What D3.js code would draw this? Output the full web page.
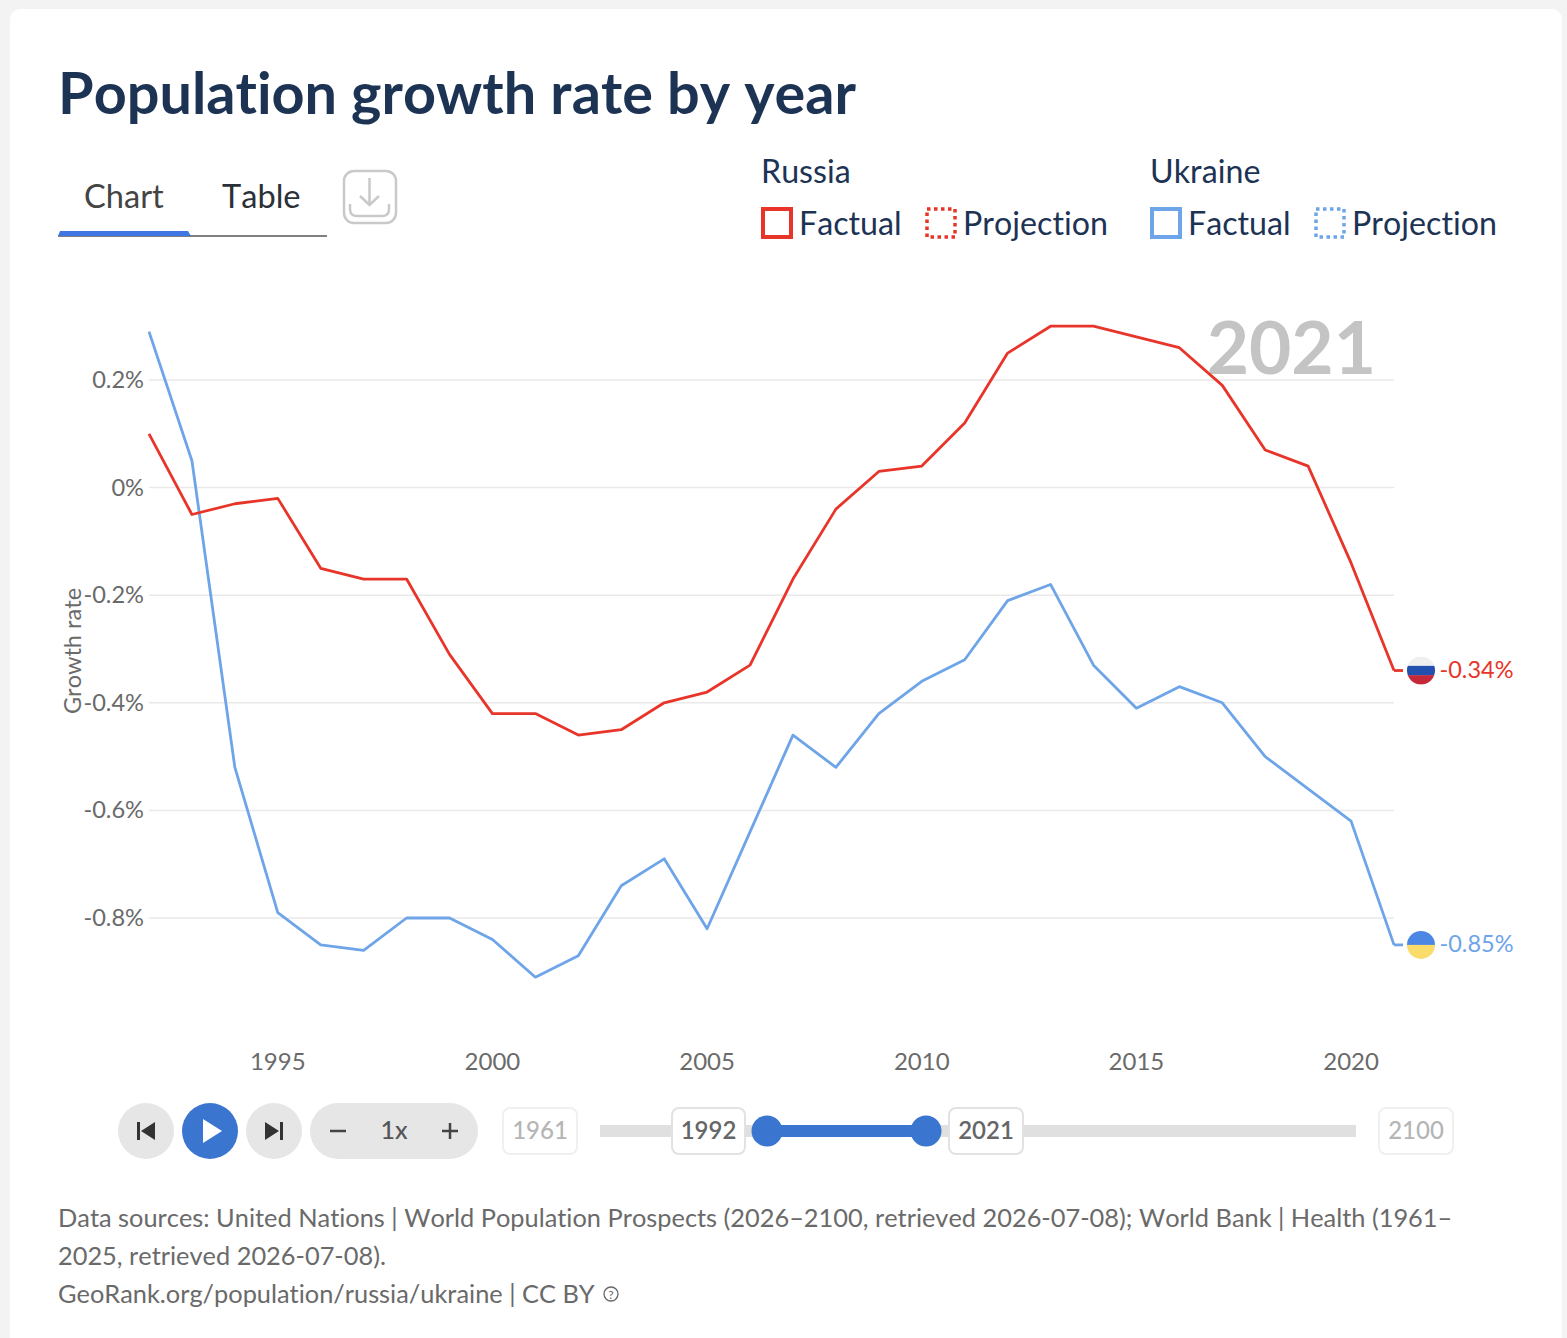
<!DOCTYPE html>
<html>
<head>
<meta charset="utf-8">
<script src="https://cdn.jsdelivr.net/npm/d3@7"></script>
<style>
html, body { margin: 0; padding: 0; background: #f3f3f3; }
svg { display: block; font-family: Lato, sans-serif; font-kerning: none; font-variant-ligatures: none; }
</style>
</head>
<body>
<svg id="page" width="1567" height="1338"></svg>
<script>
const years = d3.range(1992, 2022);
const russia = [0.10, -0.05, -0.03, -0.02, -0.15, -0.17, -0.17, -0.31, -0.42, -0.42,
  -0.46, -0.45, -0.40, -0.38, -0.33, -0.17, -0.04, 0.03, 0.04, 0.12,
  0.25, 0.30, 0.30, 0.28, 0.26, 0.19, 0.07, 0.04, -0.14, -0.34];
const ukraine = [0.29, 0.05, -0.52, -0.79, -0.85, -0.86, -0.80, -0.80, -0.84, -0.91,
  -0.87, -0.74, -0.69, -0.82, -0.64, -0.46, -0.52, -0.42, -0.36, -0.32,
  -0.21, -0.18, -0.33, -0.41, -0.37, -0.40, -0.50, -0.56, -0.62, -0.85];
const xTicks = [1995, 2000, 2005, 2010, 2015, 2020];
const yTicks = [0.2, 0, -0.2, -0.4, -0.6, -0.8];
const sourceLines = [
  'Data sources: United Nations | World Population Prospects (2026\u20132100, retrieved 2026-07-08); World Bank | Health (1961\u2013',
  '2025, retrieved 2026-07-08).',
  'GeoRank.org/population/russia/ukraine | CC BY'
];

const red = '#e8352a', blue = '#6ea4e8', navy = '#1d3354', active = '#3a75d0';
const svg = d3.select('#page');

// card
svg.append('rect').attr('x', 10).attr('y', 9).attr('width', 1552).attr('height', 1340)
  .attr('rx', 10).attr('fill', '#fff');

svg.append('text').attr('x', 58).attr('y', 114).text('Population growth rate by year')
  .attr('font-size', 57.6).attr('font-weight', 700).attr('fill', navy);

// tabs
svg.append('text').attr('x', 84).attr('y', 208).text('Chart').attr('font-size', 32.6).attr('fill', '#444');
svg.append('text').attr('x', 222).attr('y', 208).text('Table').attr('font-size', 32.6).attr('fill', '#2b3038');
svg.append('line').attr('x1', 58).attr('x2', 327).attr('y1', 236).attr('y2', 236)
  .attr('stroke', '#808080').attr('stroke-width', 2);
svg.append('path').attr('d', 'M58,236 L60,231 H188 L191,236 Z').attr('fill', '#3f76e4');

// download button
const dl = svg.append('g').attr('fill', 'none').attr('stroke', '#c9c9c9').attr('stroke-width', 2.5);
dl.append('rect').attr('x', 344).attr('y', 171).attr('width', 52).attr('height', 52).attr('rx', 10);
dl.append('path').attr('d', 'M369.5,178 V205 M360,196 L369.5,205 L379,196');
dl.append('path').attr('d', 'M350,204 V209 Q350,216 357,216 H382 Q389,216 389,209 V204');

// legend
function legendGroup(name, color, x0) {
  svg.append('text').attr('x', x0).attr('y', 183).text(name).attr('font-size', 32.2).attr('fill', navy);
  svg.append('rect').attr('x', x0 + 2).attr('y', 209).attr('width', 28).attr('height', 28)
    .attr('fill', 'none').attr('stroke', color).attr('stroke-width', 4);
  svg.append('text').attr('x', x0 + 38).attr('y', 235).text('Factual').attr('font-size', 32.2).attr('fill', navy);
  svg.append('rect').attr('x', x0 + 166).attr('y', 209).attr('width', 28).attr('height', 28)
    .attr('fill', 'none').attr('stroke', color).attr('stroke-width', 3.5).attr('stroke-dasharray', '3.5 3.5');
  svg.append('text').attr('x', x0 + 202).attr('y', 235).text('Projection').attr('font-size', 32.2).attr('fill', navy);
}
legendGroup('Russia', red, 761);
legendGroup('Ukraine', blue, 1150);

// scales
const x = d3.scaleLinear().domain([1992, 2021]).range([149, 1394]);
const y = d3.scaleLinear().domain([0.2, -0.8]).range([380, 918]);

// gridlines
svg.append('g').selectAll('line').data(yTicks).enter().append('line')
  .attr('x1', x(1992)).attr('x2', x(2021))
  .attr('y1', d => y(d)).attr('y2', d => y(d))
  .attr('stroke', '#e9e9e9').attr('stroke-width', 1.5);

svg.append('text').attr('x', 1376).attr('y', 374).attr('text-anchor', 'end').text('2021')
  .attr('font-size', 73).attr('font-weight', 700).attr('fill', '#c4c4c4');

// axes
const yAxis = d3.axisLeft(y).tickValues(yTicks).tickSize(0).tickPadding(5)
  .tickFormat(d => (d === 0 ? '0' : d3.format('.1f')(d).replace('\u2212', '-')) + '%');
const yG = svg.append('g').attr('transform', 'translate(149,0)').call(yAxis);
yG.select('.domain').remove();
yG.selectAll('text').attr('font-size', 23.6).attr('fill', '#6a6a6a').attr('font-family', 'Lato, sans-serif');

const xAxis = d3.axisBottom(x).tickValues(xTicks).tickSize(0).tickPadding(0).tickFormat(d3.format('d'));
const xG = svg.append('g').attr('transform', 'translate(-0.5,1053)').call(xAxis);
xG.select('.domain').remove();
xG.selectAll('text').attr('font-size', 24).attr('fill', '#6a6a6a').attr('font-family', 'Lato, sans-serif');

svg.append('text').attr('transform', 'translate(81,651) rotate(-90)').attr('text-anchor', 'middle')
  .text('Growth rate').attr('font-size', 23.5).attr('fill', '#6a6a6a');

// lines
const line = d3.line().x((d, i) => x(years[i])).y(d => y(d));
[[ukraine, blue], [russia, red]].forEach(([s, c]) => {
  svg.append('path').datum(s).attr('d', line).attr('fill', 'none')
    .attr('stroke', c).attr('stroke-width', 2.8).attr('stroke-linejoin', 'round');
});

// end markers with flags
function flag(id, value, stripes, color) {
  const cx = 1421, r = 14, cy = y(value);
  svg.append('line').attr('x1', x(2021)).attr('x2', x(2021) + 9)
    .attr('y1', cy).attr('y2', cy).attr('stroke', color).attr('stroke-width', 2.8);
  svg.append('clipPath').attr('id', id).append('circle').attr('cx', cx).attr('cy', cy).attr('r', r);
  const h = 2 * r / stripes.length;
  svg.append('g').attr('clip-path', `url(#${id})`).selectAll('rect').data(stripes).enter().append('rect')
    .attr('x', cx - r).attr('width', 2 * r)
    .attr('y', (d, i) => cy - r + i * h).attr('height', h + 0.3).attr('fill', d => d);
  svg.append('text').attr('x', 1439.5).attr('y', cy + 7).text(d3.format('.2f')(value).replace('\u2212', '-') + '%')
    .attr('font-size', 23.5).attr('fill', color);
}
flag('ruFlag', russia[russia.length - 1], ['#efefef', '#2150ae', '#c4293a'], red);
flag('uaFlag', ukraine[ukraine.length - 1], ['#4c87e6', '#f9dc6a'], blue);

// player controls
const ctrl = svg.append('g');
ctrl.append('circle').attr('cx', 146).attr('cy', 1131).attr('r', 28).attr('fill', '#e6e6e6');
ctrl.append('circle').attr('cx', 210).attr('cy', 1131).attr('r', 28).attr('fill', active);
ctrl.append('circle').attr('cx', 274).attr('cy', 1131).attr('r', 28).attr('fill', '#e6e6e6');
ctrl.append('rect').attr('x', 310).attr('y', 1103).attr('width', 168).attr('height', 56).attr('rx', 28).attr('fill', '#e6e6e6');
ctrl.append('path').attr('d', 'M137,1122 h3 v18 h-3 Z M155,1122 v18 l-14,-9 Z').attr('fill', '#333');
ctrl.append('path').attr('d', 'M203,1119 v24 l19,-12 Z').attr('fill', '#fff');
ctrl.append('path').attr('d', 'M265,1122 v18 l14,-9 Z M280,1122 h3 v18 h-3 Z').attr('fill', '#333');
ctrl.append('path').attr('d', 'M330,1131 h16 M442,1131 h16 M450,1123 v16').attr('stroke', '#444').attr('stroke-width', 2.5);
ctrl.append('text').attr('x', 394).attr('y', 1139).attr('text-anchor', 'middle').text('1x')
  .attr('font-size', 25).attr('font-weight', 500).attr('fill', '#555');

// year slider
const slider = d3.scaleLinear().domain([1961, 2100]).range([600, 1356]);
svg.append('rect').attr('x', slider(1961)).attr('y', 1125).attr('width', slider(2100) - slider(1961)).attr('height', 12).attr('fill', '#e0e0e0');
svg.append('rect').attr('x', 767).attr('y', 1125).attr('width', 159).attr('height', 12).attr('fill', active);
[767, 926].forEach(cx => svg.append('circle').attr('cx', cx).attr('cy', 1131).attr('r', 15.5).attr('fill', active));

function yearBox(label, bx, w, faded) {
  svg.append('rect').attr('x', bx).attr('y', 1108).attr('width', w).attr('height', 46).attr('rx', 7)
    .attr('fill', '#fff').attr('stroke', faded ? '#f0f0f0' : '#e2e2e2').attr('stroke-width', 2);
  svg.append('text').attr('x', bx + w / 2).attr('y', 1139).attr('text-anchor', 'middle').text(label)
    .attr('font-size', 24).attr('font-weight', faded ? 500 : 600).attr('fill', faded ? '#b5b5b5' : '#666');
}
yearBox('1961', 503, 74, true);
yearBox('1992', 672, 73, false);
yearBox('2021', 949, 74, false);
yearBox('2100', 1379, 74, true);

// sources
svg.append('g').selectAll('text').data(sourceLines).enter().append('text')
  .attr('x', 58).attr('y', (d, i) => 1227 + i * 38).text(d => d)
  .attr('font-size', 25.36).attr('fill', '#6a6a6a');
svg.append('circle').attr('cx', 611).attr('cy', 1294).attr('r', 7).attr('fill', 'none').attr('stroke', '#666').attr('stroke-width', 1.3);
svg.append('text').attr('x', 611).attr('y', 1298.5).attr('text-anchor', 'middle').text('?').attr('font-size', 12).attr('fill', '#666');
</script>
</body>
</html>
